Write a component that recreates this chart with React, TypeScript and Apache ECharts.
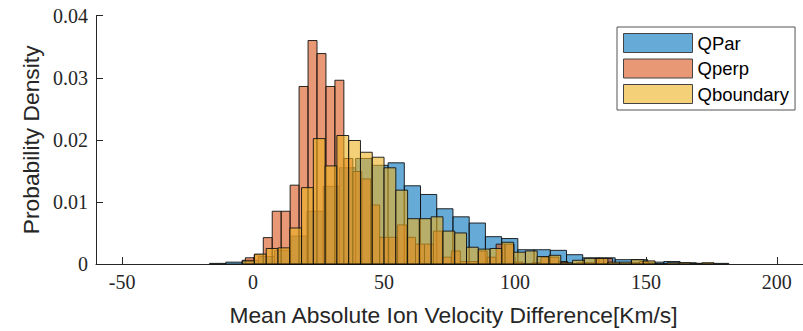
import React, { useEffect, useRef } from "react";
import * as echarts from "echarts";

// Histogram bin definitions
const seriesNames = ["QPar", "Qperp", "Qboundary"];

const qparStart = -16.6;
const qparWidth = 6.195;
const qparValues = [
  0.0001, 0.0003, 0.0006, 0.0012, 0.0022, 0.0045, 0.0085, 0.0125, 0.0155, 0.017,
  0.0159, 0.0163, 0.0126, 0.0112, 0.0089, 0.0076, 0.0066, 0.0044, 0.0041, 0.0023,
  0.0023, 0.0022, 0.0015, 0.001, 0.001, 0.0007, 0.0007, 0.0003, 0.0004, 0.0002,
  0.0001, 0.0001,
];

const qperpStart = -2.96;
const qperpWidth = 3.42;
const qperpValues = [
  0.001, 0.0015, 0.00425, 0.0085, 0.0085, 0.0127, 0.0286, 0.036, 0.0339, 0.0286,
  0.0296, 0.017, 0.0149, 0.0137, 0.0095, 0.0043, 0.0043, 0.0063, 0.0043, 0.0032,
  0.0032, 0.0053, 0.0011, 0.0021, 0.0004, 0.0004, 0.0021, 0.0011, 0.0032, 0.0032,
  0.0003, 0.0, 0.0002, 0.0011, 0.0011, 0.0004, 0.0, 0.0002, 0.0002, 0.0009,
  0.0009, 0.0, 0.0, 0.0002, 0.0004, 0.0,
];

const qboundaryStart = -4.0;
const qboundaryWidth = 4.5;
const qboundaryValues = [
  0.0005, 0.0016, 0.0025, 0.0026, 0.0058, 0.0123, 0.0202, 0.0158, 0.0207, 0.0199,
  0.018, 0.0172, 0.0155, 0.0119, 0.0073, 0.0073, 0.0076, 0.0053, 0.005, 0.0027,
  0.0024, 0.0025, 0.0035, 0.0019, 0.0021, 0.0012, 0.0014, 0.0002, 0.0006, 0.0009,
  0.0009, 0.0003, 0.0003, 0.0007, 0.0005, 0.0, 0.0002, 0.0002, 0.0001, 0.0002,
];

const xTicks = [-50, 0, 50, 100, 150, 200];
const yTicks = [0, 0.01, 0.02, 0.03, 0.04];

const fills = ["rgba(0,114,189,0.6)", "rgba(217,83,25,0.6)", "rgba(237,177,32,0.6)"];
const legendFills = ["#66AAD7", "#E89875", "#F4D079"];

function bins(start: number, width: number, values: number[]) {
  return values.map((v, i) => [start + i * width, start + (i + 1) * width, v]);
}

export default function App() {
  const ref = useRef<HTMLDivElement>(null);
  useEffect(() => {
    if (!ref.current) return;
    const chart = echarts.init(ref.current, undefined, { renderer: "svg" });
    const datasets = [
      bins(qparStart, qparWidth, qparValues),
      bins(qperpStart, qperpWidth, qperpValues),
      bins(qboundaryStart, qboundaryWidth, qboundaryValues),
    ];
    const axisColor = "#262626";
    chart.setOption({
      animation: false,
      grid: { left: 96, right: -5, top: 15.7, bottom: 64.3, containLabel: false },
      legend: {
        orient: "vertical",
        left: 617,
        top: 27,
        padding: [6, 6, 6, 6],
        itemGap: 5.5,
        itemWidth: 69,
        itemHeight: 19,
        backgroundColor: "#fff",
        borderColor: "#555",
        borderWidth: 1,
        selectedMode: false,
        textStyle: { fontFamily: "Liberation Sans, Arial, sans-serif", fontSize: 18.5, color: "#000" },
        data: seriesNames.map((n, i) => ({
          name: n,
          icon: "rect",
          itemStyle: { color: legendFills[i], borderColor: "#444", borderWidth: 1 },
        })),
      },
      xAxis: {
        type: "value",
        min: -60,
        max: 210,
        name: "Mean Absolute Ion Velocity Difference[Km/s]",
        nameLocation: "middle",
        nameGap: 39,
        nameTextStyle: {
          fontFamily: "Liberation Sans, Arial, sans-serif",
          fontSize: 22.8,
          color: axisColor,
          padding: [0, 0, 0, 8],
        },
        axisLine: { show: true, onZero: false, lineStyle: { color: axisColor, width: 1 } },
        axisTick: { show: true, inside: true, length: 7, customValues: xTicks, lineStyle: { color: axisColor } },
        axisLabel: {
          customValues: xTicks,
          margin: 8,
          fontFamily: "Liberation Serif, serif",
          fontSize: 20,
          color: axisColor,
        },
        splitLine: { show: false },
      },
      yAxis: {
        type: "value",
        min: 0,
        max: 0.04,
        interval: 0.01,
        name: "Probability Density",
        nameLocation: "middle",
        nameGap: 50,
        nameTextStyle: {
          fontFamily: "Liberation Sans, Arial, sans-serif",
          fontSize: 22.8,
          color: axisColor,
        },
        axisLine: { show: true, onZero: false, lineStyle: { color: axisColor, width: 1 } },
        axisTick: { show: true, inside: true, length: 7, lineStyle: { color: axisColor } },
        axisLabel: {
          margin: 8,
          fontFamily: "Liberation Serif, serif",
          fontSize: 20,
          color: axisColor,
          formatter: (v: number) => {
            const t = yTicks.find((y) => Math.abs(y - v) < 1e-9);
            return t === undefined ? "" : String(t);
          },
        },
        splitLine: { show: false },
      },
      series: datasets.map((data, si) => ({
        type: "custom",
        name: seriesNames[si],
        z: 2 + si,
        encode: { x: [0, 1], y: 2 },
        data,
        renderItem: (params: any, api: any) => {
          const x0 = api.value(0);
          const x1 = api.value(1);
          const y = api.value(2);
          const p0 = api.coord([x0, y]);
          const p1 = api.coord([x1, 0]);
          return {
            type: "rect",
            shape: { x: p0[0], y: p0[1], width: p1[0] - p0[0], height: p1[1] - p0[1] },
            style: { fill: fills[si], stroke: "#111", lineWidth: 0.9 },
          };
        },
      })),
    });
    return () => chart.dispose();
  }, []);
  return (
    <div
      ref={ref}
      style={{ position: "fixed", left: 0, top: 0, width: 803, height: 331, background: "#fff" }}
    />
  );
}
